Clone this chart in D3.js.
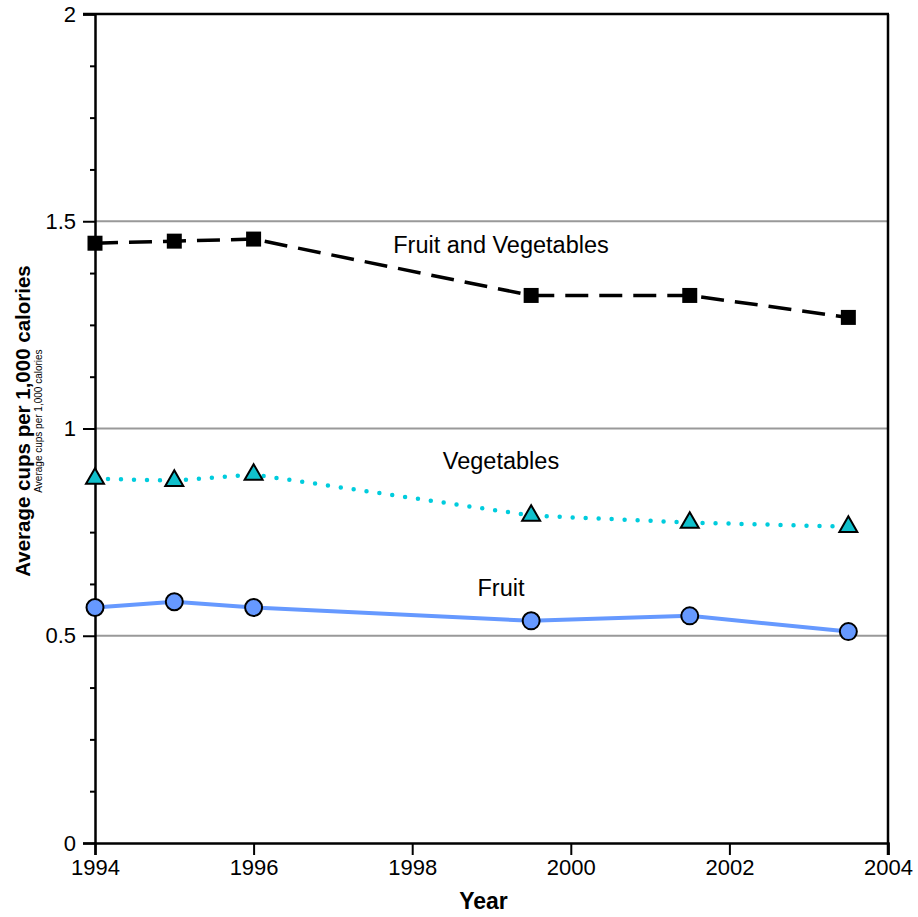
<!DOCTYPE html>
<html>
<head>
<meta charset="utf-8">
<script src="https://cdn.jsdelivr.net/npm/d3@7/dist/d3.min.js"></script>
<style>
  html, body { margin: 0; padding: 0; background: #fff; }
  svg { display: block; font-family: "Liberation Sans", Arial, sans-serif; }
</style>
</head>
<body>
<svg id="chart" width="918" height="917"></svg>
<script>
// Survey years (mid-points for the two-year survey waves)
const years = [1994, 1995, 1996, 1999.5, 2001.5, 2003.5];

// Average cups per 1,000 calories
const fruitAndVegetables = [1.447, 1.452, 1.457, 1.321, 1.321, 1.268];
const vegetables = [0.879, 0.874, 0.889, 0.790, 0.773, 0.763];
const fruit = [0.568, 0.582, 0.568, 0.536, 0.548, 0.510];

const xTickValues = [1994, 1996, 1998, 2000, 2002, 2004];
const yTickValues = [0, 0.5, 1, 1.5, 2];
const yMinorTickValues = d3.range(0, 2.0001, 0.125).filter(v => Math.abs(v * 2 - Math.round(v * 2)) > 1e-6);
const gridValues = [0.5, 1, 1.5];

const seriesLabels = ["Fruit and Vegetables", "Vegetables", "Fruit"];
const yTitle = "Average cups per 1,000 calories";
const xTitle = "Year";

const svg = d3.select("#chart");
const plotLeft = 95, plotRight = 888, plotTop = 14, plotBottom = 843;

const x = d3.scaleLinear().domain([1994, 2004]).range([plotLeft, plotRight]);
const y = d3.scaleLinear().domain([0, 2]).range([plotBottom, plotTop]);

// horizontal reference lines
svg.append("g")
  .selectAll("line")
  .data(gridValues)
  .join("line")
  .attr("x1", plotLeft).attr("x2", plotRight)
  .attr("y1", d => y(d)).attr("y2", d => y(d))
  .attr("stroke", "#999").attr("stroke-width", 2);

// frame: top and right edges
svg.append("line").attr("x1", plotLeft - 12).attr("x2", plotRight + 1)
  .attr("y1", y(2)).attr("y2", y(2)).attr("stroke", "#000").attr("stroke-width", 2.5);
svg.append("line").attr("x1", plotRight).attr("x2", plotRight)
  .attr("y1", y(2)).attr("y2", plotBottom + 12).attr("stroke", "#000").attr("stroke-width", 2.5);

// y axis, major ticks with labels
const yAxis = svg.append("g").attr("transform", `translate(${plotLeft},0)`)
  .call(d3.axisLeft(y).tickValues(yTickValues).tickSize(12).tickPadding(7)
    .tickFormat(d => d3.format("")(d)));
yAxis.select(".domain").attr("stroke-width", 2.5);
yAxis.selectAll(".tick line").attr("stroke-width", 2);
yAxis.selectAll(".tick text").attr("font-size", 22).attr("fill", "#000")
  .attr("font-family", "Liberation Sans, Arial, sans-serif");

// y axis, minor ticks
const yMinor = svg.append("g").attr("transform", `translate(${plotLeft},0)`)
  .call(d3.axisLeft(y).tickValues(yMinorTickValues).tickSize(5).tickFormat(""));
yMinor.select(".domain").remove();
yMinor.selectAll(".tick line").attr("stroke-width", 2);

// x axis
const xAxis = svg.append("g").attr("transform", `translate(0,${plotBottom})`)
  .call(d3.axisBottom(x).tickValues(xTickValues).tickSize(12).tickPadding(4)
    .tickFormat(d3.format("d")));
xAxis.select(".domain").attr("stroke-width", 2.5);
xAxis.selectAll(".tick line").attr("stroke-width", 2);
xAxis.selectAll(".tick text").attr("font-size", 22).attr("fill", "#000")
  .attr("font-family", "Liberation Sans, Arial, sans-serif");

// axis titles
svg.append("text")
  .attr("transform", `translate(30,421) rotate(-90)`)
  .attr("text-anchor", "middle")
  .attr("font-size", 20.5).attr("font-weight", "bold")
  .text(yTitle);
svg.append("text")
  .attr("transform", `translate(42,421) rotate(-90)`)
  .attr("text-anchor", "middle")
  .attr("font-size", 10)
  .text(yTitle);
svg.append("text")
  .attr("x", (plotLeft + plotRight) / 2 - 8).attr("y", 909)
  .attr("text-anchor", "middle")
  .attr("font-size", 23).attr("font-weight", "bold")
  .text(xTitle);

const line = d3.line().x(d => x(d[0])).y(d => y(d[1]));
const pts = vals => years.map((yr, i) => [yr, vals[i]]);

// Fruit: solid blue line with circles
svg.append("path").datum(pts(fruit)).attr("d", line)
  .attr("fill", "none").attr("stroke", "#6699FF").attr("stroke-width", 4);
// Vegetables: dotted cyan line with triangles
svg.append("path").datum(pts(vegetables)).attr("d", line)
  .attr("fill", "none").attr("stroke", "#00CCDD").attr("stroke-width", 4.5)
  .attr("stroke-linecap", "round").attr("stroke-dasharray", "0,13");
// Fruit and vegetables: dashed black line with squares
svg.append("path").datum(pts(fruitAndVegetables)).attr("d", line)
  .attr("fill", "none").attr("stroke", "#000").attr("stroke-width", 3.5)
  .attr("stroke-dasharray", "23,11");

svg.append("g").selectAll("path").data(pts(fruitAndVegetables)).join("path")
  .attr("transform", d => `translate(${x(d[0])},${y(d[1])})`)
  .attr("d", d3.symbol(d3.symbolSquare, 225)())
  .attr("fill", "#000");

svg.append("g").selectAll("path").data(pts(vegetables)).join("path")
  .attr("transform", d => `translate(${x(d[0])},${y(d[1])})`)
  .attr("d", d3.symbol(d3.symbolTriangle, 140)())
  .attr("fill", "#10C0CC").attr("stroke", "#000").attr("stroke-width", 2)
  .attr("stroke-linejoin", "miter");

svg.append("g").selectAll("circle").data(pts(fruit)).join("circle")
  .attr("cx", d => x(d[0])).attr("cy", d => y(d[1])).attr("r", 8.5)
  .attr("fill", "#6699FF").attr("stroke", "#000").attr("stroke-width", 2);

// series labels
const labelY = [253, 469, 596];
svg.append("g").selectAll("text").data(seriesLabels).join("text")
  .attr("x", 501).attr("y", (d, i) => labelY[i])
  .attr("text-anchor", "middle").attr("font-size", 23.5)
  .text(d => d);
</script>
</body>
</html>
